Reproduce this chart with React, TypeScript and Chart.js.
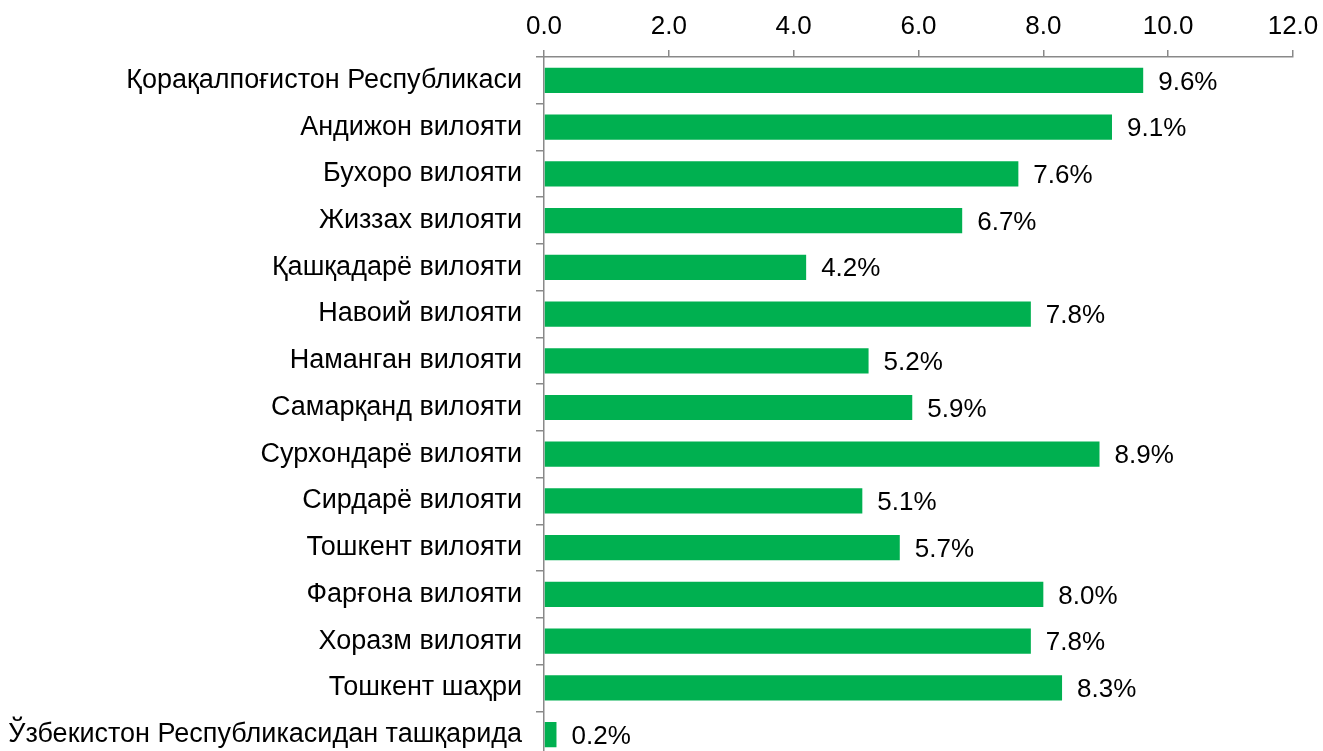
import React, { useEffect, useRef } from "react";
import { Chart, registerables } from "chart.js";

Chart.register(...registerables);

const categories = [
  "Қорақалпоғистон Республикаси",
  "Андижон вилояти",
  "Бухоро вилояти",
  "Жиззах вилояти",
  "Қашқадарё вилояти",
  "Навоий вилояти",
  "Наманган вилояти",
  "Самарқанд вилояти",
  "Сурхондарё вилояти",
  "Сирдарё вилояти",
  "Тошкент вилояти",
  "Фарғона вилояти",
  "Хоразм вилояти",
  "Тошкент шаҳри",
  "Ўзбекистон Республикасидан ташқарида",
];
const values = [9.6, 9.1, 7.6, 6.7, 4.2, 7.8, 5.2, 5.9, 8.9, 5.1, 5.7, 8.0, 7.8, 8.3, 0.2];
const xTicks = [0, 2, 4, 6, 8, 10, 12];

const FONT = "'Liberation Sans', Arial, sans-serif";
const AXIS = "#898989";
const FS = 26;

const labelPlugin = {
  id: "barLabels",
  afterDatasetsDraw(chart: any) {
    const ctx = chart.ctx;
    const meta = chart.getDatasetMeta(0);
    ctx.save();
    ctx.font = `${FS}px ${FONT}`;
    ctx.fillStyle = "#000";
    ctx.textAlign = "left";
    ctx.textBaseline = "middle";
    meta.data.forEach((bar: any, i: number) => {
      ctx.fillText(values[i].toFixed(1) + "%", bar.x + 15, bar.y + 2);
    });
    ctx.restore();
  },
};

export default function App() {
  const ref = useRef<HTMLCanvasElement>(null);
  useEffect(() => {
    document.body.style.margin = "0";
    document.body.style.overflow = "hidden";
    const chart = new Chart(ref.current!, {
      type: "bar",
      data: {
        labels: categories,
        datasets: [
          {
            data: values,
            backgroundColor: "#00B050",
            categoryPercentage: 1,
            barPercentage: 0.54,
          },
        ],
      },
      options: {
        indexAxis: "y",
        animation: false,
        responsive: false,
        devicePixelRatio: 1,
        layout: { padding: { left: 0, right: 30, top: 0, bottom: 0 } },
        plugins: { legend: { display: false }, tooltip: { enabled: false } },
        scales: {
          x: {
            position: "top",
            min: 0,
            max: 12,
            afterBuildTicks(axis: any) {
              axis.ticks = xTicks.map((v) => ({ value: v }));
            },
            afterFit(axis: any) {
              axis.height = 57;
              axis.paddingLeft = 0;
              axis.paddingRight = 0;
            },
            border: { display: true, color: AXIS, width: 1.5 },
            grid: {
              display: true,
              drawOnChartArea: false,
              drawTicks: true,
              tickLength: 7,
              color: AXIS,
              lineWidth: 1.5,
            },
            ticks: {
              font: { family: FONT, size: FS },
              color: "#000",
              padding: 8,
              maxRotation: 0,
              callback: (v: any) => Number(v).toFixed(1),
            },
          },
          y: {
            afterFit(axis: any) {
              axis.width = 544;
              axis.paddingTop = 0;
              axis.paddingBottom = 0;
            },
            border: { display: true, color: AXIS, width: 1.5 },
            grid: {
              display: true,
              drawOnChartArea: false,
              drawTicks: true,
              tickLength: 8,
              color: AXIS,
              lineWidth: 1.5,
              offset: true,
            },
            ticks: {
              font: { family: FONT, size: 27 },
              color: "#000",
              padding: 14,
              autoSkip: false,
            },
          },
        },
      },
      plugins: [labelPlugin],
    });
    return () => chart.destroy();
  }, []);
  return (
    <div style={{ position: "fixed", left: 0, top: 0, width: 1323, height: 751, overflow: "hidden", background: "#fff" }}>
      <canvas ref={ref} width={1323} height={758} style={{ display: "block" }} />
    </div>
  );
}
